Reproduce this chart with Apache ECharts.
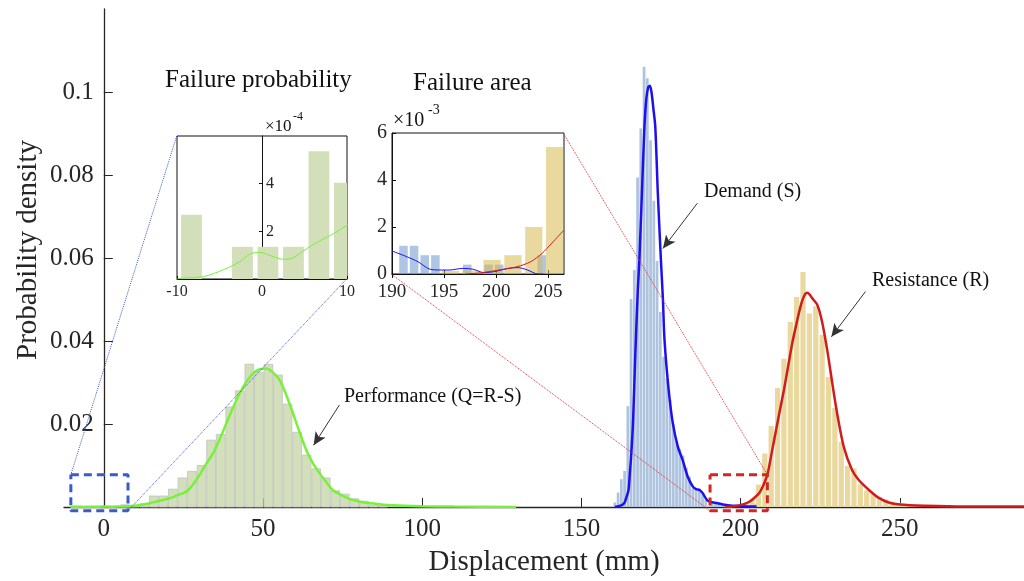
<!DOCTYPE html>
<html>
<head>
<meta charset="utf-8">
<script src="https://cdn.jsdelivr.net/npm/echarts@6/dist/echarts.min.js"></script>
<style>
  html, body { margin: 0; padding: 0; background: #fff; }
  #chart { width: 1024px; height: 581px; }
</style>
</head>
<body>
<div id="chart"></div>
<script>
// histogram bins (centre, density)
var perfCenters = [-8.3, -5.3, -2.3, 0.7, 3.7, 6.7, 9.7, 12.7, 15.7, 18.7, 21.7, 24.7, 27.7, 30.7, 33.7, 36.7, 39.7, 42.7, 45.7, 48.7, 51.7, 54.7, 57.7, 60.7, 63.7, 66.7, 69.7, 72.7, 75.7, 78.7, 81.7, 84.7, 87.7]
var perfHeights = [0.00027, 0, 0.000135, 0.000135, 0.000135, 0.000536, 0.000404, 0.0008, 0.00265, 0.00265, 0.0043, 0.0070, 0.0086, 0.0100, 0.0161, 0.0175, 0.0241, 0.0280, 0.0344, 0.0325, 0.0344, 0.0318, 0.0248, 0.0180, 0.0125, 0.0092, 0.0070, 0.0039, 0.0031, 0.0020, 0.0014, 0.0005, 0.0003]

var demandCenters = [160.5, 161.52, 162.54, 163.56, 164.58, 165.6, 166.62, 167.64, 168.66, 169.68, 170.7, 171.72, 172.74, 173.76, 174.78, 175.8, 176.82, 177.84, 178.86, 179.88, 180.9, 181.92, 182.94, 183.96, 184.98, 186.0, 187.02, 188.04, 189.06, 190.08, 191.1, 192.12, 193.14, 194.16, 195.18, 196.2, 197.22, 198.24, 199.26, 200.28, 201.3, 202.32, 203.34, 204.36]
var demandHeights = [0.0011, 0.0035, 0.0067, 0.0087, 0.0243, 0.0501, 0.0571, 0.0794, 0.0912, 0.1061, 0.1033, 0.0884, 0.0738, 0.0593, 0.0470, 0.0362, 0.0310, 0.0258, 0.0200, 0.0157, 0.0140, 0.0124, 0.0095, 0.0073, 0.0045, 0.0046, 0.0044, 0.0030, 0.0017, 0, 0.0012, 0.0012, 0.0008, 0.0008, 0, 0, 0.0004, 0, 0.0004, 0.0004, 0, 0, 0, 0.0008]

var resistCenters = [195.6, 197.6, 199.6, 201.6, 203.6, 205.6, 207.6, 209.6, 211.6, 213.6, 215.6, 217.6, 219.6, 221.6, 223.6, 225.6, 227.6, 229.6, 231.6, 233.6, 235.6, 237.6, 239.6, 241.6, 243.6, 245.6, 247.6, 249.6, 251.6, 253.6]
var resistHeights = [0.00013, 0.00015, 0.0006, 0.0008, 0.0020, 0.0054, 0.0129, 0.0195, 0.0287, 0.0357, 0.0446, 0.0506, 0.0566, 0.0466, 0.0484, 0.0415, 0.0313, 0.0239, 0.0157, 0.0099, 0.0093, 0.0055, 0.0040, 0.0031, 0.0024, 0.0018, 0.0013, 0.0010, 0.0007, 0.0004]

// fitted density curves [x, density]
var perfCurve = [[-10.5, 0], [-6.9, 0.00001], [-2.6, 0.00007], [-0.3, 0.00011], [2.5, 0.00008], [5.2, 0.00013], [8.3, 0.00019], [11, 0.0004], [14.4, 0.0009], [17, 0.0014], [20.7, 0.0021], [23, 0.0028], [25.9, 0.0037], [28, 0.0054], [30.1, 0.0077], [32, 0.0102], [34.3, 0.0129], [36.5, 0.0165], [38.5, 0.0202], [40.5, 0.0238], [42.7, 0.0274], [44.8, 0.0302], [46.9, 0.0322], [49, 0.0332], [51, 0.0334], [53, 0.0325], [55.2, 0.0306], [57.3, 0.0270], [59.4, 0.0226], [61.5, 0.0180], [63.6, 0.0137], [65.7, 0.0105], [67.8, 0.0081], [69.9, 0.0060], [71.9, 0.0041], [74.5, 0.0029], [77.2, 0.0019], [79.8, 0.0014], [82.4, 0.0010], [86, 0.0007], [90.8, 0.0004], [100, 0.0002], [110, 0.0001], [129.5, 0]]
var demandCurve = [[160.5, 0], [162.5, 0.0004], [163.5, 0.001], [164.2, 0.0025], [164.8, 0.0041], [165.2, 0.008], [165.6, 0.0121], [166.2, 0.0202], [166.9, 0.0362], [167.7, 0.0520], [168.2, 0.0595], [169.0, 0.0756], [169.8, 0.0916], [170.4, 0.0985], [171.0, 0.1012], [171.5, 0.1015], [172.0, 0.1000], [172.6, 0.0960], [173.2, 0.0916], [174.0, 0.0756], [175.0, 0.0590], [175.6, 0.0500], [176.1, 0.0402], [177.4, 0.0282], [178.7, 0.0202], [180.3, 0.0145], [181.8, 0.0113], [183.4, 0.0073], [185.0, 0.0049], [186.0, 0.0043], [187.1, 0.0041], [188.1, 0.0033], [189.7, 0.0015], [192.8, 0.0009], [196, 0.0004], [200, 0.0002], [205, 0.0001]]
var resistCurve = [[195, 0], [198, 0.0002], [201, 0.0007], [202.6, 0.0012], [204, 0.0020], [205.8, 0.0033], [207, 0.0050], [208.4, 0.0078], [209.7, 0.0128], [211.0, 0.0180], [212.3, 0.0232], [213.6, 0.0282], [214.9, 0.0338], [216.2, 0.0394], [217.5, 0.0440], [218.8, 0.0483], [219.9, 0.0508], [220.9, 0.0516], [221.7, 0.0512], [222.5, 0.0503], [224.1, 0.0487], [225.6, 0.0446], [227.2, 0.0378], [228.8, 0.0298], [230.3, 0.0226], [232.4, 0.0145], [235.0, 0.0089], [237.1, 0.0065], [240.3, 0.0041], [243.4, 0.0022], [246.5, 0.0011], [250, 0.0006], [258, 0.0003], [270, 0.0001], [289, 0.0001]]

// inset curves
var insetPerfCurve = [[-10, 0], [-9.5, 0.000003], [-6.9, 0.00001], [-4.6, 0.000038], [-2.6, 0.000073], [-1.4, 0.000105], [-0.27, 0.000112], [1.3, 0.000094], [2.5, 0.000083], [3.6, 0.000088], [5.2, 0.000126], [6.8, 0.00016], [8.3, 0.000188], [9.9, 0.000223], [11, 0.00025]]
var insetDemandCurve = [[190, 0.00098], [191.4, 0.00074], [192.5, 0.00052], [193.6, 0.00021], [194.6, 0.00017], [195.5, 0.00017], [196.8, 0.00024], [197.8, 0.0002], [198.8, 0.00006], [199.8, 0.0001], [201.1, 0.00024], [202.1, 0.00027], [203.0, 0.00017], [204.0, 0], [204.5, 0]]
var insetResistCurve = [[197.0, 0], [198.5, 0.00005], [200.3, 0.00017], [202.0, 0.00031], [203.3, 0.00052], [204.4, 0.00088], [205.3, 0.0013], [206.5, 0.00187]]

// axis ticks
var mainXTicks = [0, 50, 100, 150, 200, 250]
var mainYTicks = [0.02, 0.04, 0.06, 0.08, 0.1]
var inset1YTicks = [0.0002, 0.0004]
var inset2XTicks = [190, 195, 200, 205]

// zoom boxes and connectors (data coords of main axes)
var blueBox = [[-10.35, 0.0078], [7.6, 0.0078], [7.6, -0.0009], [-10.35, -0.0009], [-10.35, 0.0078]]
var redBox = [[190.4, 0.0078], [208.4, 0.0078], [208.4, -0.0009], [190.4, -0.0009], [190.4, 0.0078]]
var blueLinkA = [[22.9, 0.0894], [-10.35, 0.0078]]
var blueLinkB = [[76.2, 0.0549], [7.6, -0.0009]]
var redLinkA = [[90.3, 0.0561], [190.4, -0.0009]]
var redLinkB = [[144.3, 0.0901], [208.4, 0.0078]]

var FONT = 'Liberation Serif'
var INK = '#262626'

function zip (xs, ys) {
  return xs.map(function (x, i) { return [x, ys[i]] })
}

function histItem (fill, stroke, width) {
  return function (params, api) {
    var x = api.value(0)
    var h = api.value(1)
    var p0 = api.coord([x - width / 2, h])
    var p1 = api.coord([x + width / 2, 0])
    var cs = params.coordSys
    var rect = echarts.graphic.clipRectByRect(
      { x: p0[0], y: p0[1], width: p1[0] - p0[0], height: p1[1] - p0[1] },
      { x: cs.x, y: cs.y, width: cs.width, height: cs.height })
    if (!rect) return
    return {
      type: 'rect',
      shape: rect,
      style: { fill: fill, stroke: stroke || null, lineWidth: stroke ? 0.8 : 0 }
    }
  }
}

function hist (centers, heights, fill, stroke, width, xi, yi) {
  return {
    type: 'custom',
    xAxisIndex: xi,
    yAxisIndex: yi,
    data: zip(centers, heights),
    renderItem: histItem(fill, stroke, width),
    silent: true,
    z: 2
  }
}

function curve (data, color, width, xi, yi) {
  return {
    type: 'line',
    xAxisIndex: xi,
    yAxisIndex: yi,
    data: data,
    smooth: 0.3,
    symbol: 'none',
    lineStyle: { color: color, width: width },
    silent: true,
    z: 4
  }
}

function outline (data, color, width, dash) {
  return {
    type: 'line',
    xAxisIndex: 0,
    yAxisIndex: 0,
    data: data,
    clip: false,
    symbol: 'none',
    lineStyle: { color: color, width: width, type: dash },
    silent: true,
    z: 5
  }
}

function text (x, y, str, size, extra) {
  var t = {
    type: 'text',
    x: x,
    y: y,
    style: { text: str, fontSize: size, fontFamily: FONT, fill: '#111', verticalAlign: 'middle' }
  }
  if (extra) Object.assign(t, extra)
  return t
}

var chart = echarts.init(document.getElementById('chart'))

var option = {
  animation: false,
  grid: [
    { left: 64, right: 0, top: 9, bottom: 74, outerBoundsMode: 'none' },
    { left: 177, top: 136, width: 170, height: 143, show: true, backgroundColor: '#fff', borderColor: '#111', borderWidth: 1, outerBoundsMode: 'none' },
    { left: 392, top: 133, width: 172, height: 141, show: true, backgroundColor: '#fff', borderColor: '#111', borderWidth: 1, outerBoundsMode: 'none' }
  ],
  xAxis: [
    {
      type: 'value', gridIndex: 0, min: -12.5, max: 289,
      axisLine: { onZero: false, lineStyle: { color: INK, width: 1.3 } },
      axisTick: { inside: true, length: 9, customValues: mainXTicks, lineStyle: { color: INK } },
      axisLabel: { customValues: mainXTicks, fontSize: 25, fontFamily: FONT, color: INK, margin: 10 },
      splitLine: { show: false },
      name: 'Displacement (mm)', nameLocation: 'middle', nameGap: 41,
      nameTextStyle: { fontSize: 29, fontFamily: FONT, color: INK }
    },
    {
      type: 'value', gridIndex: 1, min: -10, max: 10, interval: 10,
      axisLine: { onZero: false, lineStyle: { color: '#111' } },
      axisTick: { inside: true, length: 3, lineStyle: { color: '#111' } },
      axisLabel: { fontSize: 16, fontFamily: FONT, color: INK, margin: 5 },
      splitLine: { show: false }
    },
    {
      type: 'value', gridIndex: 2, min: 190, max: 206.5,
      axisLine: { onZero: false, lineStyle: { color: '#111' } },
      axisTick: { inside: true, length: 4, customValues: inset2XTicks, lineStyle: { color: '#111' } },
      axisLabel: { customValues: inset2XTicks, fontSize: 19, fontFamily: FONT, color: INK, margin: 9 },
      splitLine: { show: false }
    },
    {
      type: 'value', gridIndex: 2, min: 190, max: 206.5, position: 'top',
      axisLine: { show: false },
      axisTick: { inside: true, length: 4, customValues: inset2XTicks, lineStyle: { color: '#111' } },
      axisLabel: { show: false },
      splitLine: { show: false }
    }
  ],
  yAxis: [
    {
      // shifted onto x = 0
      type: 'value', gridIndex: 0, min: 0, max: 0.12, offset: -39.8,
      axisLine: { show: true, onZero: false, lineStyle: { color: INK, width: 1.3 } },
      axisTick: { show: true, inside: true, length: 9, customValues: mainYTicks, lineStyle: { color: INK } },
      axisLabel: { customValues: mainYTicks, fontSize: 25, fontFamily: FONT, color: INK, margin: 10 },
      splitLine: { show: false }
    },
    {
      type: 'value', gridIndex: 1, min: 0, max: 0.0006, offset: -85,
      axisLine: { show: true, onZero: false, lineStyle: { color: '#111' } },
      axisTick: { show: true, length: 3, customValues: inset1YTicks, lineStyle: { color: '#111' } },
      axisLabel: {
        inside: true, customValues: inset1YTicks, fontSize: 16, fontFamily: FONT, color: INK, margin: 4,
        formatter: function (v) { return String(Math.round(v * 1e4)) }
      },
      splitLine: { show: false }
    },
    {
      type: 'value', gridIndex: 2, min: 0, max: 0.006, interval: 0.002,
      axisLine: { show: true, lineStyle: { color: '#111' } },
      axisTick: { show: true, inside: true, length: 4, lineStyle: { color: '#111' } },
      axisLabel: {
        fontSize: 20, fontFamily: FONT, color: INK, margin: 5,
        formatter: function (v) { return String(Math.round(v * 1e3)) }
      },
      splitLine: { show: false }
    }
  ],
  series: [
    hist(perfCenters, perfHeights, '#d3dfba', '#c2c2c2', 2.75, 0, 0),
    hist(demandCenters, demandHeights, '#aec3de', null, 0.86, 0, 0),
    hist(resistCenters, resistHeights, '#e9d99e', null, 1.65, 0, 0),
    curve(perfCurve, '#78f03c', 2.5, 0, 0),
    curve(demandCurve, '#1e0ff0', 2.5, 0, 0),
    curve(resistCurve, '#d01c1c', 2.5, 0, 0),

    hist(perfCenters, perfHeights, '#d2dfb9', null, 2.45, 1, 1),
    curve(insetPerfCurve, '#78f03c', 1, 1, 1),

    hist(demandCenters, demandHeights, 'rgba(120,160,210,0.6)', null, 0.82, 2, 2),
    hist(resistCenters, resistHeights, 'rgba(215,185,80,0.55)', null, 1.65, 2, 2),
    curve(insetDemandCurve, '#1e0ff0', 1, 2, 2),
    curve(insetResistCurve, '#d01c1c', 1, 2, 2),

    outline(blueBox, '#3a5cc8', 3, [8, 5]),
    outline(redBox, '#d42424', 3, [8, 5]),
    outline(blueLinkA, '#3a5cc8', 1, 'dotted'),
    outline(blueLinkB, '#3a5cc8', 1, 'dotted'),
    outline(redLinkA, '#e03030', 1, 'dotted'),
    outline(redLinkB, '#e03030', 1, 'dotted'),
    {
      type: 'line', xAxisIndex: 0, yAxisIndex: 0, data: [], silent: true,
      markLine: {
        silent: true, symbol: ['none', 'arrow'], symbolSize: [9, 13],
        label: { show: false },
        lineStyle: { color: '#333', width: 1, type: 'solid' },
        data: [
          [{ coord: [186.4, 0.0732] }, { coord: [175.6, 0.0623] }],
          [{ coord: [239.2, 0.0519] }, { coord: [228.5, 0.0410] }],
          [{ coord: [74.0, 0.0246] }, { coord: [65.9, 0.0149] }]
        ]
      }
    }
  ],
  graphic: [
    text(28, 250, 'Probability density', 29, { rotation: Math.PI / 2, style: { text: 'Probability density', fontSize: 29, fontFamily: FONT, fill: INK, align: 'center', verticalAlign: 'middle' } }),
    text(165, 80, 'Failure probability', 25),
    text(413, 83, 'Failure area', 25),
    text(704, 192, 'Demand (S)', 20),
    text(872, 281, 'Resistance (R)', 20),
    text(344, 397, 'Performance (Q=R-S)', 20),
    text(265, 127, '×10', 17),
    text(293, 117, '-4', 12),
    text(393, 121, '×10', 20),
    text(428, 110, '-3', 14)
  ]
}

chart.setOption(option)
</script>
</body>
</html>
